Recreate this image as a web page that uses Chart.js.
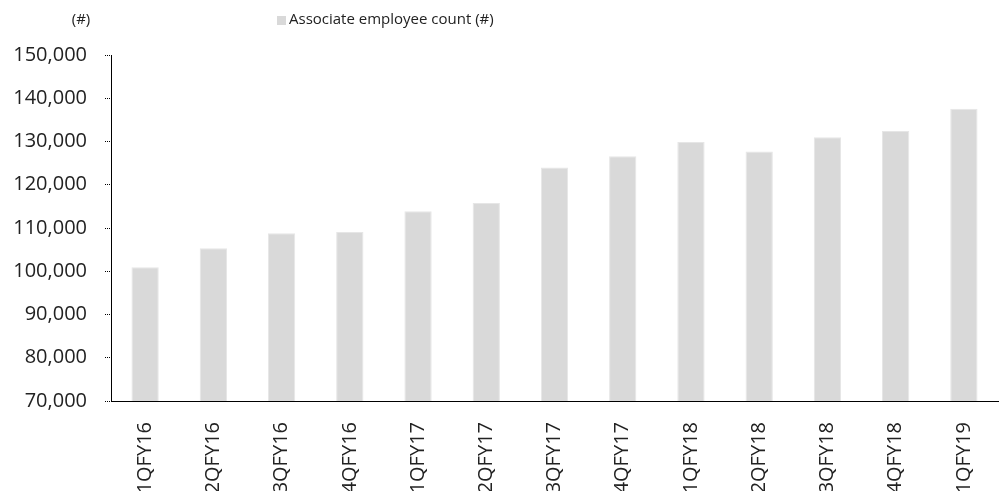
<!DOCTYPE html>
<html>
<head>
<meta charset="utf-8">
<script src="https://cdn.jsdelivr.net/npm/chart.js@4"></script>
<style>
  html, body { margin: 0; padding: 0; background: #fff; }
  #wrap { position: relative; width: 1003px; height: 491px; }
</style>
</head>
<body>
<div id="wrap"><canvas id="gc"></canvas></div>
<script>
const categories = ['1QFY16', '2QFY16', '3QFY16', '4QFY16', '1QFY17', '2QFY17', '3QFY17',
  '4QFY17', '1QFY18', '2QFY18', '3QFY18', '4QFY18', '1QFY19'];
const employees = [100900, 105300, 108800, 109050, 113900, 115800, 124000,
  126600, 129900, 127700, 131000, 132400, 137600];
const seriesName = 'Associate employee count (#)';
const axisUnit = '(#)';
const yMin = 70000, yMax = 150000, yStep = 10000;

const FONT = "'Open Sans', sans-serif";
const INK = '#222';

// legend + unit label drawn at top, positioned like the original
const topLabels = {
  id: 'topLabels',
  afterDraw(chart) {
    const c = chart.ctx;
    const ds = chart.data.datasets[0];
    c.save();
    c.font = '15px ' + FONT;
    c.fillStyle = INK;
    c.textBaseline = 'middle';
    c.textAlign = 'center';
    c.fillText(axisUnit, 81, 20);
    c.fillStyle = ds.backgroundColor;
    c.fillRect(277, 16, 9, 9);
    c.fillStyle = INK;
    c.textAlign = 'left';
    c.fillText(ds.label, 289, 20);
    c.restore();
  }
};

new Chart(document.getElementById('gc'), {
  type: 'bar',
  data: {
    labels: categories,
    datasets: [{
      label: seriesName,
      data: employees,
      backgroundColor: '#d9d9d9',
      borderColor: '#e6e6e6',
      borderWidth: 1,
      barPercentage: 0.4,
      categoryPercentage: 1,
    }]
  },
  plugins: [topLabels],
  options: {
    responsive: true,
    maintainAspectRatio: false,
    animation: false,
    layout: { padding: { top: 55, left: 10, right: 5, bottom: 0 } },
    plugins: {
      legend: { display: false },
      tooltip: { enabled: false },
    },
    scales: {
      x: {
        afterFit: (s) => { s.height = 90; },
        grid: { display: false },
        border: { display: true, color: '#000', width: 1, dash: [1, 1] },
        ticks: {
          minRotation: 90,
          maxRotation: 90,
          autoSkip: false,
          padding: 13,
          color: INK,
          font: { size: 20, family: FONT },
        }
      },
      y: {
        min: yMin,
        max: yMax,
        afterFit: (s) => { s.width = 101; },
        grid: {
          drawOnChartArea: false,
          tickLength: 6,
          tickColor: '#000',
          tickBorderDash: [1, 1],
        },
        border: { display: true, color: '#000', width: 1, dash: [1, 1] },
        ticks: {
          stepSize: yStep,
          padding: 18,
          color: INK,
          font: { size: 20, family: FONT },
          callback: (v) => v.toLocaleString('en-US'),
        }
      }
    }
  }
});
</script>
</body>
</html>
